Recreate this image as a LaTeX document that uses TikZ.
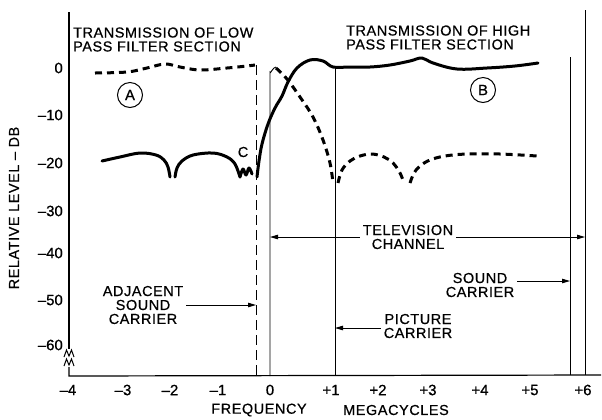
\documentclass[tikz,border=0pt]{standalone}
\usepackage{fontspec}
\setmainfont{Liberation Sans}
\newfontfamily\lblfont[LetterSpace=4,FakeBold=0.6]{Liberation Sans}
\newfontfamily\tickfont[FakeBold=0.8]{Liberation Sans}
\usetikzlibrary{arrows.meta}

\tikzset{
	curve/.style={line width=3bp, line cap=round, line join=round},
	dcurve/.style={line width=3bp, dash pattern=on 7bp off 5bp},
	thinline/.style={line width=0.9bp},
	axis/.style={line width=1.2bp},
	arr/.style={line width=0.9bp, -{Triangle[length=8bp,width=4.5bp]}},
	lbl/.style={font=\lblfont\fontsize{14.5}{14}\selectfont, align=center, inner sep=3bp},
	tick/.style={font=\tickfont\fontsize{15}{15}\selectfont, inner sep=0pt},
	circ/.style={draw, circle, line width=1bp, minimum size=25bp, inner sep=0pt, font=\tickfont\fontsize{15}{15}\selectfont},
}

\begin{document}
\begin{tikzpicture}[x=1bp,y=1bp,yscale=-1,xscale=1]
	\useasboundingbox (0,0) rectangle (602,419);

	% axes
	\coordinate (ytop) at (69,12);
	\coordinate (origin) at (69,376);
	\coordinate (xend) at (601,375);
	\draw [axis] (ytop) -- (69,349);
	\draw [axis] (69,367) -- (origin) -- (xend);
	\draw [line width=1bp] (64,357) -- (66.5,350) -- (69,356) -- (71.5,350) -- (74,357);
	\draw [line width=1bp] (64,366) -- (66.5,359) -- (69,365) -- (71.5,359) -- (74,366);

	% markers
	\coordinate (adjsnd) at (256,376);
	\coordinate (chanlo) at (270,376);
	\coordinate (piccar) at (335,376);
	\coordinate (sndcar) at (570,375);
	\coordinate (chanhi) at (585,375);
	\draw [thinline, dash pattern=on 10bp off 5bp] (256,65) -- (adjsnd);
	\draw [thinline] (chanlo) -- (270,72) to[out=90,in=180] (276,67);
	\draw [thinline] (335,67) -- (piccar);
	\draw [thinline] (570,57) -- (sndcar);
	\draw [thinline] (585,10) -- (chanhi);

	% curve B, high pass
	\draw [curve] plot [smooth, tension=0.6] coordinates {(102,161) (120,157) (140,153) (156,155) (164,160) (168,167) (170,177)};
	\draw [curve] plot [smooth, tension=0.6] coordinates {(175,177) (177,168) (182,161) (193,155) (213,153) (227,157) (235,164) (240,177)};
	\draw [curve] plot [smooth, tension=0.6] coordinates {(240,177) (243,169) (246,175) (249,168) (252,174)};
	\draw [curve] plot [smooth, tension=0.6] coordinates {(257,177) (259,161) (262,144) (268,124) (275,108) (282,96) (288,82) (297,68) (310,60) (323,61) (333,67) (350,67) (370,67) (390,65) (410,61) (422,58) (433,63) (457,69) (487,68) (515,66) (538,63)};

	% curve A, low pass
	\draw [dcurve] plot [smooth, tension=0.6] coordinates {(95,73) (127,72) (147,68) (165,64) (180,67) (200,70) (227,68) (247,66) (255,65)};
	\draw [dcurve] plot [smooth, tension=0.6] coordinates {(276,68) (287,79) (300,97) (313,117) (323,140) (330,163) (333,183)};
	\draw [dcurve] plot [smooth, tension=0.6] coordinates {(338,183) (342,170) (350,161) (360,156) (372,154) (384,157) (393,163) (400,173) (404,183)};
	\draw [dcurve] plot [smooth, tension=0.6] coordinates {(410,183) (414,173) (420,166) (430,160) (445,156) (467,154) (500,154) (537,156)};

	\node [circ] (circA) at (130,95) {A};
	\node [circ] (circB) at (483,90) {B};
	\node [lbl] (lblC) at (243,152) {C};

	% titles
	\node [lbl, align=left, anchor=west, inner sep=0pt] (lowtitle) at (73,39.5) {TRANSMISSION OF LOW\\PASS FILTER SECTION};
	\node [lbl, align=left, anchor=west, inner sep=0pt] (hightitle) at (346,37.5) {TRANSMISSION OF HIGH\\PASS FILTER SECTION};
	\node [lbl, rotate=90] (ytitle) at (14,208) {RELATIVE LEVEL – DB};
	\node [lbl] (xtitle) at (259,410) {FREQUENCY};
	\node [lbl] (xunit) at (396,410) {MEGACYCLES};

	% tick labels
	\foreach \v/\y in {0/68,–10/115,–20/163,–30/211,–40/253,–50/300,–60/345}
		\node [tick, anchor=east] (y\y) at (63,\y) {\v};
	\foreach \v/\x in {–4/68,–3/123,–2/170,–1/218,0/270,+1/331,+2/378,+3/428,+4/480,+5/530,+6/583}
		\node [tick] (x\x) at (\x,390) {\v};

	% notes
	\node [lbl] (adjlbl) at (143,305) {ADJACENT\\SOUND\\CARRIER};
	\node [lbl] (tvlbl) at (408,237) {TELEVISION\\CHANNEL};
	\node [lbl] (sndlbl) at (480,285) {SOUND\\CARRIER};
	\node [lbl] (piclbl) at (418,326) {PICTURE\\CARRIER};
	\draw [arr] (adjlbl.east) -- (adjlbl.east -| adjsnd);
	\draw [arr] (tvlbl.west) -- (tvlbl.west -| chanlo);
	\draw [arr] (tvlbl.east) -- (tvlbl.east -| chanhi);
	\draw [arr] ([yshift=-4bp]sndlbl.east) -- ([yshift=-4bp]sndlbl.east -| sndcar);
	\draw [arr] ([yshift=2bp]piclbl.west) -- ([yshift=2bp]piclbl.west -| piccar);
\end{tikzpicture}
\end{document}
